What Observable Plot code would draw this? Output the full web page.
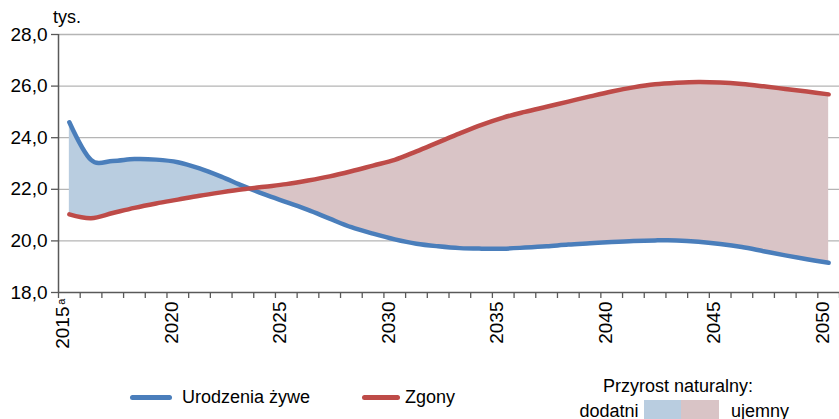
<!DOCTYPE html>
<html>
<head>
<meta charset="utf-8">
<script src="https://cdn.jsdelivr.net/npm/d3@7"></script>
<script src="https://cdn.jsdelivr.net/npm/@observablehq/plot@0.6"></script>
<style>
  html, body { margin: 0; padding: 0; background: #fff; }
  #wrap { position: relative; width: 839px; height: 419px; overflow: hidden; font-family: "Liberation Sans", Arial, sans-serif; color: #000; }
  #wrap svg { position: absolute; left: 0; top: 0; }
  .lbl { position: absolute; font-size: 18px; line-height: 18px; white-space: nowrap; }
  .sw { position: absolute; }
</style>
</head>
<body>
<div id="wrap"></div>
<script>
// ---- data (thousands) ----
const years = [2015, 2016, 2017, 2018, 2019, 2020, 2021, 2022, 2023, 2024,
               2025, 2026, 2027, 2028, 2029, 2030, 2031, 2032, 2033, 2034,
               2035, 2036, 2037, 2038, 2039, 2040, 2041, 2042, 2043, 2044,
               2045, 2046, 2047, 2048, 2049, 2050];
const births = [24.60, 23.14, 23.10, 23.17, 23.15, 23.05, 22.81, 22.49, 22.13, 21.80,
                21.50, 21.20, 20.86, 20.53, 20.28, 20.06, 19.89, 19.79, 19.72, 19.70,
                19.70, 19.74, 19.79, 19.86, 19.91, 19.96, 20.00, 20.02, 20.02, 19.97,
                19.88, 19.76, 19.60, 19.44, 19.29, 19.15];
const deaths = [21.03, 20.88, 21.08, 21.28, 21.45, 21.60, 21.75, 21.88, 22.00, 22.10,
                22.20, 22.34, 22.50, 22.70, 22.92, 23.14, 23.47, 23.82, 24.17, 24.50,
                24.78, 25.00, 25.20, 25.40, 25.60, 25.79, 25.95, 26.07, 26.13, 26.16,
                26.14, 26.08, 25.99, 25.89, 25.79, 25.68];
const yTicks = [18, 20, 22, 24, 26, 28];
const gridTicks = [20, 22, 24, 26, 28];
const xLabelYears = [2020, 2025, 2030, 2035, 2040, 2045, 2050];
const xFirstLabel = [2015];
const footnotes = [{year: 2015, mark: "a"}];
const unitLabel = "tys.";
const seriesNames = ["Urodzenia żywe", "Zgony"];
const legendTitle = "Przyrost naturalny:";
const legendPos = "dodatni";
const legendNeg = "ujemny";

const colBirth = "#4a7ebb", colDeath = "#be4b48";
const fillPos = "#b9cde0", fillNeg = "#d9c4c6";
const axisCol = "#595959", gridCol = "#b5b5b5";
const font = "'Liberation Sans', Arial, sans-serif";
const curve = "cardinal";

const rows = years.map((y, i) => ({year: y, births: births[i], deaths: deaths[i]}));
const bounds = [...years.map(y => y - 0.5), years[years.length - 1] + 0.5];

// crossing of the two series (for the fill colour switch)
let xc = years[years.length - 1];
for (let i = 0; i < years.length - 1; i++) {
  const a = births[i] - deaths[i], b = births[i + 1] - deaths[i + 1];
  if (a > 0 && b <= 0) { xc = years[i] + a / (a - b); break; }
}

const fmt = d => d.toFixed(1).replace(".", ",");

const plot = Plot.plot({
  width: 839,
  height: 419,
  marginLeft: 58,
  marginRight: 0,
  marginTop: 34,
  marginBottom: 127,
  style: {fontFamily: font, fontSize: "19px", color: "#000", background: "transparent"},
  x: {domain: [years[0] - 0.5, years[years.length - 1] + 0.5], axis: null, label: null},
  y: {domain: [18, 28], axis: null, label: null},
  marks: [
    Plot.gridY(gridTicks, {stroke: gridCol, strokeOpacity: 1, strokeWidth: 1.3}),
    Plot.areaY(rows, {x: "year", y1: "deaths", y2: "births", curve, fill: fillPos}),
    Plot.areaY(rows, {x: "year", y1: "deaths", y2: "births", curve, fill: fillNeg}),
    Plot.axisY(yTicks, {tickSize: 7, tickPadding: 4, tickFormat: fmt, stroke: axisCol, strokeWidth: 1.3, fontSize: 19, label: null}),
    Plot.axisX(bounds, {tickSize: 6, tickFormat: () => "", stroke: axisCol, strokeWidth: 1.3, label: null}),
    Plot.ruleX([bounds[0]], {stroke: axisCol, strokeWidth: 1.5}),
    Plot.ruleY([18], {stroke: axisCol, strokeWidth: 1.5}),
    Plot.text(xLabelYears, {x: d => d, text: d => String(d), frameAnchor: "bottom", rotate: -90, textAnchor: "end", dy: 9, fontSize: 19, fill: "#000"}),
    Plot.text(xFirstLabel, {x: d => d, text: d => String(d), frameAnchor: "bottom", rotate: -90, textAnchor: "end", dy: 14, fontSize: 19, fill: "#000"}),
    Plot.text(footnotes, {x: "year", text: "mark", frameAnchor: "bottom", rotate: -90, textAnchor: "end", dy: 6, dx: -4, fontSize: 11, fill: "#000"}),
    Plot.line(rows, {x: "year", y: "births", curve, stroke: colBirth, strokeWidth: 4.5}),
    Plot.line(rows, {x: "year", y: "deaths", curve, stroke: colDeath, strokeWidth: 4.5})
  ]
});

// split the fill at the crossing point using clip paths
const xs = plot.scale("x");
const cx = xs.apply(xc);
const ns = "http://www.w3.org/2000/svg";
const defs = document.createElementNS(ns, "defs");
function clip(id, x0, x1) {
  const cp = document.createElementNS(ns, "clipPath");
  cp.setAttribute("id", id);
  const r = document.createElementNS(ns, "rect");
  r.setAttribute("x", x0); r.setAttribute("y", 0);
  r.setAttribute("width", x1 - x0); r.setAttribute("height", 419);
  cp.appendChild(r); defs.appendChild(cp);
}
clip("clipPos", 0, cx);
clip("clipNeg", cx, 839);
plot.insertBefore(defs, plot.firstChild);
const areas = plot.querySelectorAll('g[aria-label="area"]');
if (areas[0]) areas[0].setAttribute("clip-path", "url(#clipPos)");
if (areas[1]) areas[1].setAttribute("clip-path", "url(#clipNeg)");

const wrap = document.getElementById("wrap");
wrap.appendChild(plot);

function addLabel(text, left, top) {
  const d = document.createElement("div");
  d.className = "lbl"; d.textContent = text;
  d.style.left = left + "px"; d.style.top = top + "px";
  wrap.appendChild(d);
}
function addSwatch(left, top, w, h, color, radius) {
  const d = document.createElement("div");
  d.className = "sw";
  Object.assign(d.style, {left: left + "px", top: top + "px", width: w + "px", height: h + "px", background: color, borderRadius: (radius || 0) + "px"});
  wrap.appendChild(d);
}
addLabel(unitLabel, 53, 8);
addSwatch(130, 394.5, 42, 5, colBirth, 2.5);
addLabel(seriesNames[0], 182, 388);
addSwatch(362, 394.5, 38, 5, colDeath, 2.5);
addLabel(seriesNames[1], 405, 388);
addLabel(legendTitle, 603, 376.5);
addLabel(legendPos, 579.5, 401.5);
addSwatch(644, 399.5, 37, 22, fillPos);
addSwatch(681, 399.5, 38, 22, fillNeg);
addLabel(legendNeg, 731, 401.5);
</script>
</body>
</html>
